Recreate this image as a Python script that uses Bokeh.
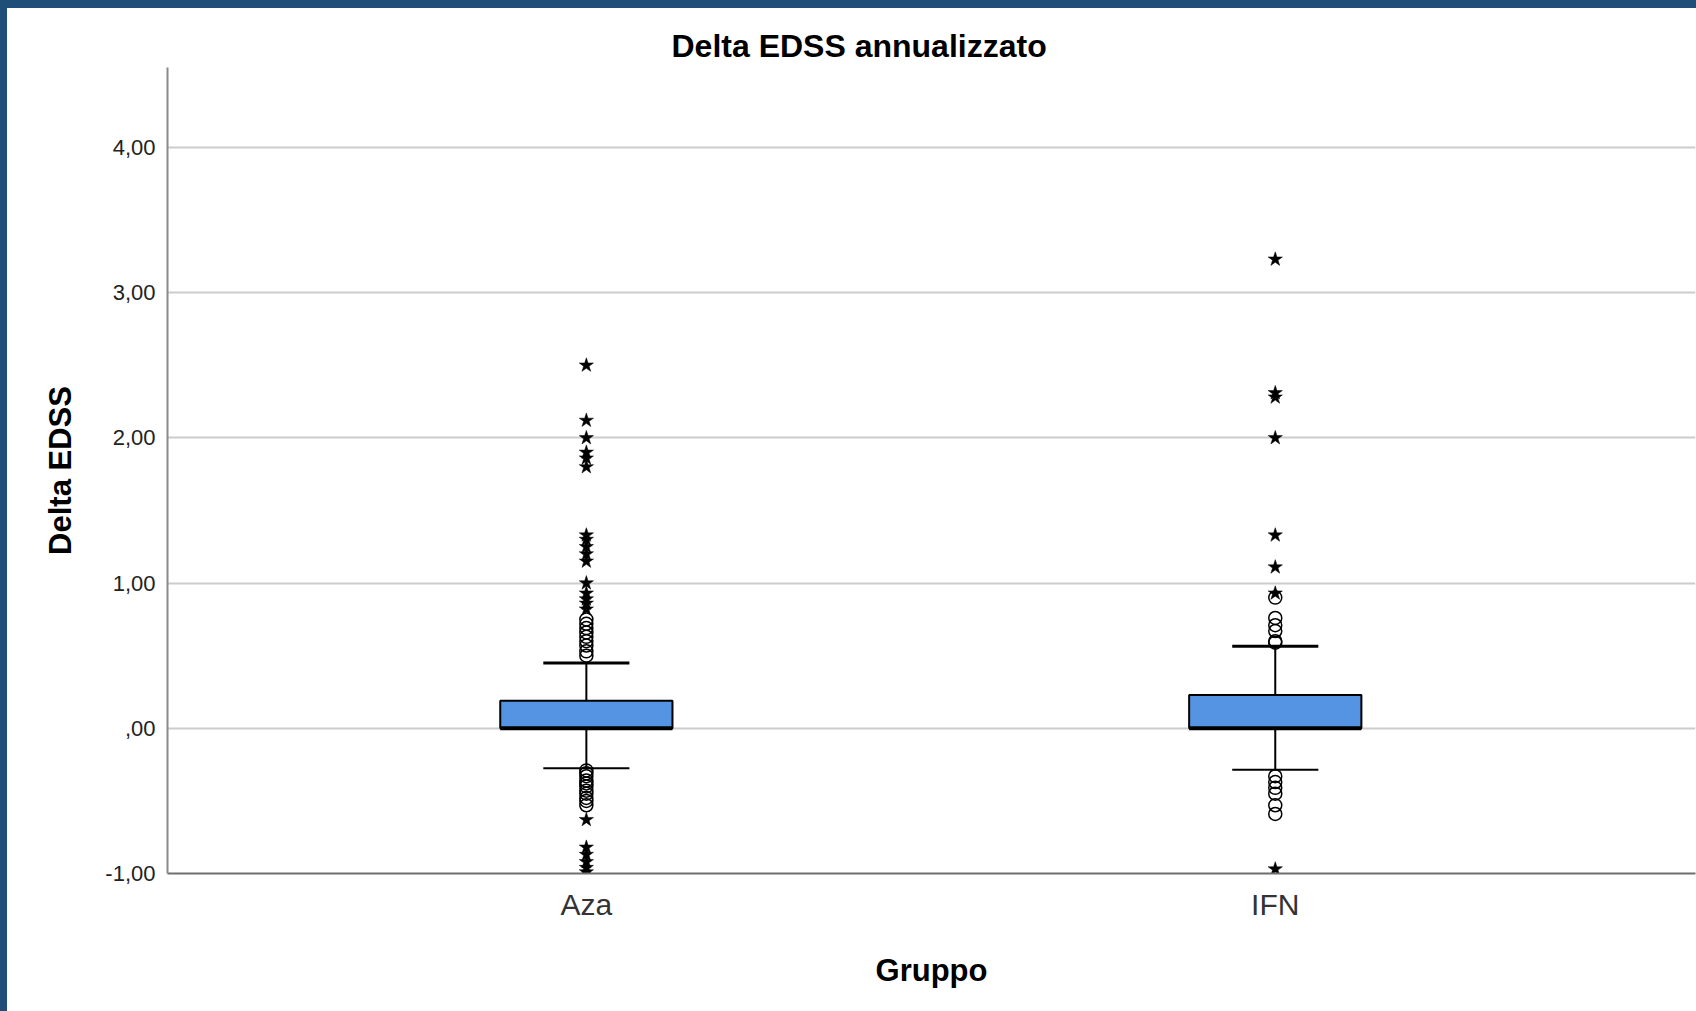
from bokeh.plotting import figure
from bokeh.models import FixedTicker, Range1d
from bokeh.embed import file_html
from bokeh.resources import INLINE

# Groups and box statistics (annualised Delta EDSS)
groups = ["Aza", "IFN"]
group_pos = [1, 2]
q1 = [0.0, 0.0]
median = [0.0, 0.0]
q3 = [0.19, 0.23]
whisker_low = [-0.275, -0.285]
whisker_high = [0.45, 0.565]

# Outliers (circles) and extreme values (stars) per group
aza_outliers = [0.50, 0.53, 0.57, 0.60, 0.63, 0.66, 0.69, 0.72, 0.75,
                -0.29, -0.31, -0.33, -0.36, -0.38, -0.40, -0.43, -0.45,
                -0.48, -0.50, -0.53]
aza_extremes = [0.82, 0.86, 0.89, 0.93, 1.00, 1.15, 1.20, 1.25, 1.30, 1.33,
                1.80, 1.86, 1.90, 2.00, 2.12, 2.50,
                -0.63, -0.82, -0.87, -0.92, -0.96, -0.99]
ifn_outliers = [0.59, 0.60, 0.67, 0.71, 0.76, 0.90,
                -0.33, -0.37, -0.41, -0.45, -0.53, -0.59]
ifn_extremes = [0.93, 1.11, 1.33, 2.00, 2.28, 2.31, 3.23, -0.97]

y_ticks = [-1, 0, 1, 2, 3, 4]
y_tick_labels = ["-1,00", ",00", "1,00", "2,00", "3,00", "4,00"]

FONT = "Liberation Sans"
BOX_W = 0.25
CAP_W = 0.125

p = figure(width=1689, height=1003, output_backend="svg", toolbar_location=None,
           x_range=Range1d(0.392, 2.610), y_range=Range1d(-1.0, 4.551),
           min_border_left=160, min_border_right=1, min_border_top=59,
           min_border_bottom=138)
p.margin = (8, 0, 0, 7)
p.styles = {"background-color": "white"}
p.outline_line_color = None
p.background_fill_color = "white"
p.border_fill_color = "white"

# title
p.title.text = "Delta EDSS annualizzato"
p.title.align = "left"
p.title.offset = 504
p.title.standoff = 8
p.title.text_font = FONT
p.title.text_font_size = "32px"
p.title.text_font_style = "bold"
p.title.text_color = "black"

# grid
p.xgrid.visible = False
p.ygrid.ticker = FixedTicker(ticks=y_ticks)
p.ygrid.grid_line_color = "#cccccc"
p.ygrid.grid_line_width = 2

# y axis
p.yaxis.ticker = FixedTicker(ticks=y_ticks)
p.yaxis.major_label_overrides = {t: s for t, s in zip(y_ticks, y_tick_labels)}
p.yaxis.axis_label = "Delta EDSS"
p.yaxis.axis_label_text_font = FONT
p.yaxis.axis_label_text_font_size = "31px"
p.yaxis.axis_label_text_font_style = "bold"
p.yaxis.axis_label_text_color = "black"
p.yaxis.axis_label_standoff = 24
p.yaxis.major_label_text_font = FONT
p.yaxis.major_label_text_font_size = "22px"
p.yaxis.major_label_text_color = "#222222"
p.yaxis.major_label_standoff = 6
p.yaxis.major_tick_line_color = None
p.yaxis.minor_tick_line_color = None
p.yaxis.axis_line_color = "#8a8a8a"
p.yaxis.axis_line_width = 2

# x axis
p.xaxis.ticker = FixedTicker(ticks=group_pos)
p.xaxis.major_label_overrides = {t: s for t, s in zip(group_pos, groups)}
p.xaxis.axis_label = "Gruppo"
p.xaxis.axis_label_text_font = FONT
p.xaxis.axis_label_text_font_size = "31px"
p.xaxis.axis_label_text_font_style = "bold"
p.xaxis.axis_label_text_color = "black"
p.xaxis.axis_label_standoff = 29
p.xaxis.major_label_text_font = FONT
p.xaxis.major_label_text_font_size = "30px"
p.xaxis.major_label_text_color = "#333333"
p.xaxis.major_label_standoff = 8
p.xaxis.major_tick_line_color = None
p.xaxis.minor_tick_line_color = None
p.xaxis.axis_line_color = "#6e6e6e"
p.xaxis.axis_line_width = 2

# whiskers
p.segment(x0=group_pos, y0=q3, x1=group_pos, y1=whisker_high, line_color="black", line_width=2)
p.segment(x0=group_pos, y0=q1, x1=group_pos, y1=whisker_low, line_color="black", line_width=2)
cap_l = [g - CAP_W / 2 for g in group_pos]
cap_r = [g + CAP_W / 2 for g in group_pos]
p.segment(x0=cap_l, y0=whisker_high, x1=cap_r, y1=whisker_high, line_color="black", line_width=3)
p.segment(x0=cap_l, y0=whisker_low, x1=cap_r, y1=whisker_low, line_color="black", line_width=2)

# boxes and medians
p.vbar(x=group_pos, width=BOX_W, top=q3, bottom=q1, fill_color="#5494e2",
       line_color="black", line_width=2)
box_l = [g - BOX_W / 2 for g in group_pos]
box_r = [g + BOX_W / 2 for g in group_pos]
p.segment(x0=box_l, y0=median, x1=box_r, y1=median, line_color="black", line_width=4)

# outliers and extremes
for pos, outl, extr in [(group_pos[0], aza_outliers, aza_extremes),
                        (group_pos[1], ifn_outliers, ifn_extremes)]:
    p.scatter(x=[pos] * len(outl), y=outl, marker="circle", size=13,
              fill_color=None, line_color="black", line_width=1.5)
    p.scatter(x=[pos] * len(extr), y=extr, marker="star", size=15,
              fill_color="black", line_color="black", line_width=0.5)

html = file_html(p, INLINE, title="Delta EDSS annualizzato")
page_style = "<style>html, body { margin: 0; padding: 0; background-color: #1f4e79; }</style>"
html = html.replace("</head>", page_style + "\n</head>", 1)
open("out.html", "w").write(html)
